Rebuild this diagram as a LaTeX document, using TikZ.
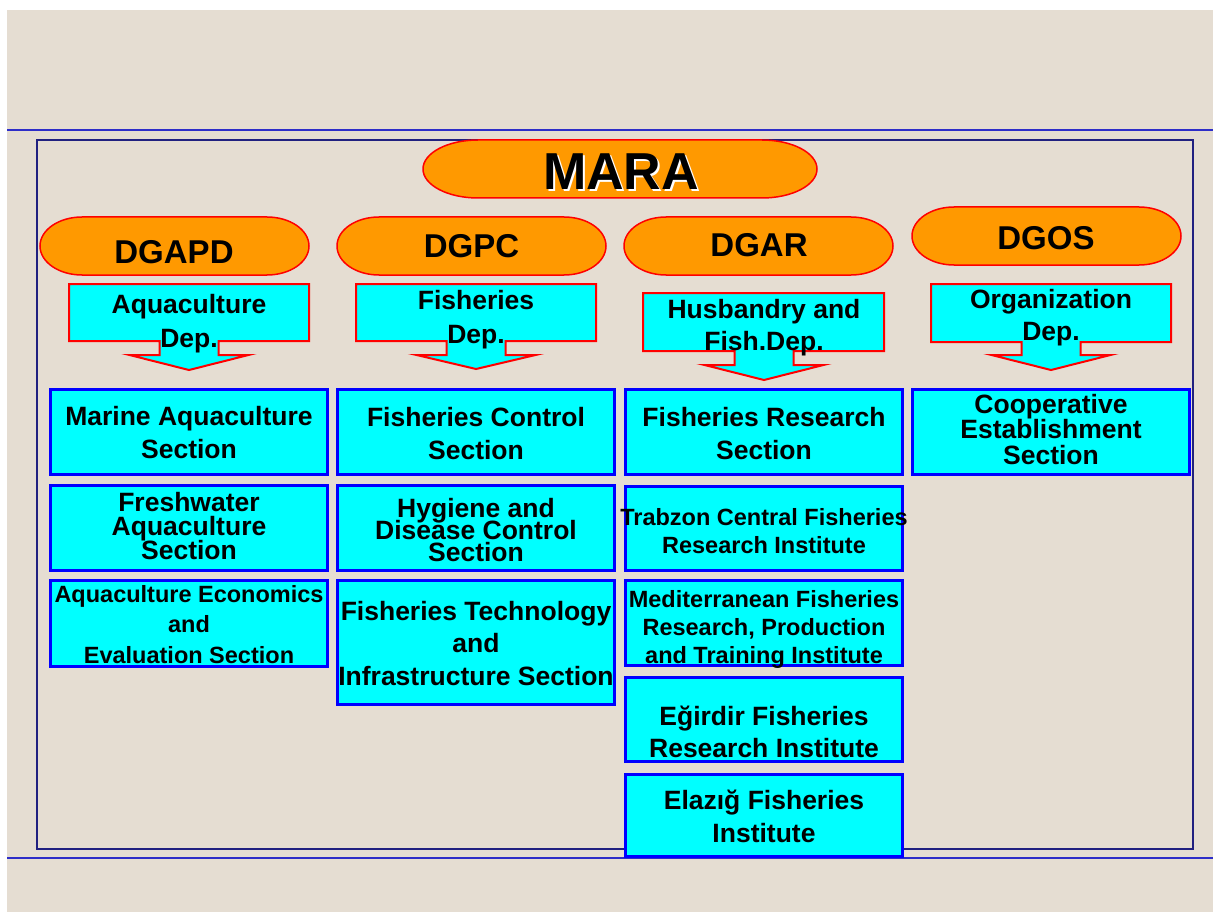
\documentclass[tikz,border=0pt]{standalone}
\usepackage{fontspec}
\setmainfont{Liberation Sans}
\usetikzlibrary{calc}
\definecolor{bgc}{RGB}{229,221,210}
\definecolor{orng}{RGB}{255,153,0}
\definecolor{aqua}{RGB}{0,255,255}
\definecolor{bluee}{RGB}{0,0,255}
\definecolor{redd}{RGB}{255,0,0}
\definecolor{navyf}{RGB}{32,32,128}
\definecolor{hlinec}{RGB}{45,45,200}
\newcommand\fs[2]{\bfseries\fontsize{#1}{#2}\selectfont\lineskiplimit=-200pt\lineskip=0pt}
\newcommand\stad[5]{%
\pgfmathsetmacro\stym{(#2+#4)/2}\pgfmathsetmacro\stry{(#4-#2)/2}%
\path[ovalst] (#1,\stym) .. controls (#1,{\stym-0.5523*\stry}) and ({#1+#5*(1-0.5523)},#2) .. ({#1+#5},#2) -- ({#3-#5},#2) .. controls ({#3-#5*(1-0.5523)},#2) and (#3,{\stym-0.5523*\stry}) .. (#3,\stym) .. controls (#3,{\stym+0.5523*\stry}) and ({#3-#5*(1-0.5523)},#4) .. ({#3-#5},#4) -- ({#1+#5},#4) .. controls ({#1+#5*(1-0.5523)},#4) and (#1,{\stym+0.5523*\stry}) .. cycle;}
\newcommand\callout[7]{%
\path[callst] (#1,#2) -- (#3,#2) -- (#3,#4) -- ({#5+29.5},#4) -- ({#5+29.5},#6) -- ({#5+59.5},#6) -- (#5,#7) -- ({#5-59.5},#6) -- ({#5-29.5},#6) -- ({#5-29.5},#4) -- (#1,#4) -- cycle;}
\tikzset{
  ovalst/.style={draw=redd, line width=1.5pt, fill=orng},
  callst/.style={draw=redd, line width=2pt, fill=aqua, line join=miter},
  sect/.style={draw=bluee, line width=3pt, fill=aqua, rectangle, inner sep=0pt, minimum width=277pt},
  txt/.style={align=center, inner sep=0pt, anchor=base, text=black},
}
\begin{document}
\begin{tikzpicture}[x=1pt,y=-1pt]
\useasboundingbox (0,0) rectangle (1213,912);
\fill[white] (0,0) rectangle (1213,912);
\fill[bgc] (7,10) rectangle (1213,912);
\draw[hlinec, line width=1.2pt] (7,130) -- (1213,130);
\draw[hlinec, line width=1.2pt] (7,858) -- (1213,858);
\draw[navyf, line width=1.3pt] (37,140) rectangle (1193,849);
\draw[navyf, line width=2.2pt] (37,849) -- (1193,849);

% top level
\stad{423}{140}{817}{198}{55}
\node[txt, font=\fs{52}{60}, text=white] (maras) at (623,192) {MARA};
\node[txt, font=\fs{52}{60}] (mara) at (621,190) {MARA};

\stad{40}{217}{309}{275}{42}
\stad{337}{217}{606}{275}{42}
\stad{624}{217}{893}{275}{42}
\stad{912}{207}{1181}{265}{42}
\node[txt, font=\fs{33}{40}] (dgapd) at (174,264) {DGAPD};
\node[txt, font=\fs{33}{40}] (dgpc) at (471.5,258) {DGPC};
\node[txt, font=\fs{33}{40}] (dgar) at (759,257) {DGAR};
\node[txt, font=\fs{33}{40}] (dgos) at (1046,250) {DGOS};

% departments
\callout{69}{284}{309}{341}{189}{355}{370}
\callout{356}{284}{596}{341}{476}{355}{369}
\callout{643}{293}{884}{351}{764}{365}{380}
\callout{931}{284}{1171}{342}{1051}{355}{370}
\node[txt, font=\fs{26.5}{34}] (dep1) at (189,347) {Aquaculture\\Dep.};
\node[txt, font=\fs{26.5}{34}] (dep2) at (476,343) {Fisheries\\Dep.};
\node[txt, font=\fs{26.5}{32}] (dep3) at (764,350) {Husbandry and\\Fish.Dep.};
\node[txt, font=\fs{26.5}{32}] (dep4) at (1051,340) {Organization\\Dep.};

% column 1
\node[sect, minimum height=85pt] (s11) at (189,432) {};
\node[sect, minimum height=85pt] (s12) at (189,528) {};
\node[sect, minimum height=86pt] (s13) at (189,623.5) {};
% column 2
\node[sect, minimum height=85pt] (s21) at (476,432) {};
\node[sect, minimum height=85pt] (s22) at (476,528) {};
\node[sect, minimum height=124pt] (s23) at (476,642.5) {};
% column 3
\node[sect, minimum height=85pt] (s31) at (764,432) {};
\node[sect, minimum height=84pt] (s32) at (764,528.5) {};
\node[sect, minimum height=85pt] (s33) at (764,623) {};
\node[sect, minimum height=84pt] (s34) at (764,719.5) {};
\node[sect, minimum height=82pt] (s35) at (764,815.5) {};
% column 4
\node[sect, minimum height=85pt] (s41) at (1051,432) {};

\node[txt, font=\fs{26.5}{33}] (t11) at (189,458) {Marine Aquaculture\\Section};
\node[txt, font=\fs{26.5}{24}] (t12) at (189,559) {Freshwater\\Aquaculture\\Section};
\node[txt, font=\fs{23.5}{30.5}] (t13) at (189,663) {Aquaculture Economics\\and\\Evaluation Section};
\node[txt, font=\fs{26.5}{33}] (t21) at (476,459) {Fisheries Control\\Section};
\node[txt, font=\fs{26.5}{22}] (t22) at (476,561) {Hygiene and\\Disease Control\\Section};
\node[txt, font=\fs{26.5}{32.5}] (t23) at (476,685) {Fisheries Technology\\and\\Infrastructure Section};
\node[txt, font=\fs{26.5}{33}] (t31) at (764,459) {Fisheries Research\\Section};
\node[txt, font=\fs{23.5}{28}] (t32) at (764,553) {Trabzon Central Fisheries\\Research Institute};
\node[txt, font=\fs{23.5}{28}] (t33) at (764,663) {Mediterranean Fisheries\\Research, Production\\and Training Institute};
\node[txt, font=\fs{26.5}{32}] (t34) at (764,757) {Eğirdir Fisheries\\Research Institute};
\node[txt, font=\fs{26.5}{33}] (t35) at (764,842) {Elazığ Fisheries\\Institute};
\node[txt, font=\fs{26.5}{25.5}] (t41) at (1051,464) {Cooperative\\Establishment\\Section};
\end{tikzpicture}
\end{document}
